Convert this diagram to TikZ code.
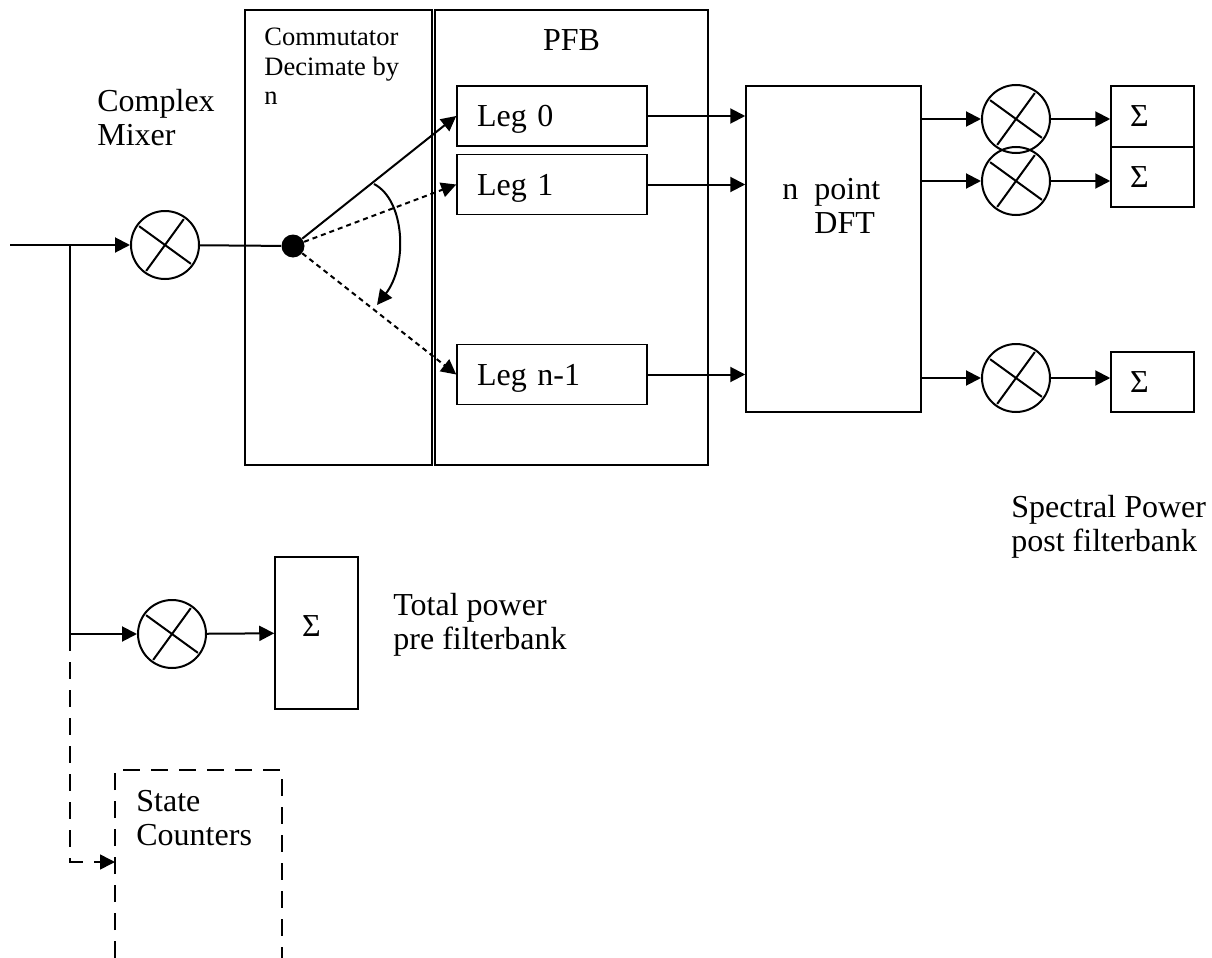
\documentclass[tikz,border=0pt]{standalone}
\usepackage{fontspec}
\setmainfont{Liberation Serif}
\usetikzlibrary{arrows.meta, positioning, calc}

\begin{document}
\begin{tikzpicture}[x=0.5pt, y=-0.5pt,
		every node/.style={font=\fontsize{16pt}{17pt}\selectfont},
		wire/.style={line width=1pt},
		arr/.style={wire, -{Triangle[length=7.5pt, width=7.5pt]}},
		dotwire/.style={arr, dash pattern=on 2.5pt off 2pt},
		dashwire/.style={line width=0.8pt, dash pattern=on 8.5pt off 5.5pt},
		blk/.style={draw, line width=0.75pt, inner sep=0pt},
		legbox/.style={blk, minimum height=30pt, text width=75pt, inner xsep=10pt, align=left, text depth=0pt},
		sigbox/.style={blk, minimum height=30pt, text width=22.5pt, inner xsep=9.5pt, align=left},
		mixer/.style={circle, draw, line width=1pt, minimum size=34pt, inner sep=0pt,
			path picture={
				\draw[line width=1pt] ([shift={(144:16pt)}]path picture bounding box.center) -- ([shift={(-36:16pt)}]path picture bounding box.center);
				\draw[line width=1pt] ([shift={(54:16pt)}]path picture bounding box.center) -- ([shift={(234:16pt)}]path picture bounding box.center);
			}},
		lbl/.style={anchor=north west, inner sep=0pt, align=left}]
	\useasboundingbox (0,0) rectangle (1212,958);
	% commutator and filterbank frames
	\node[blk, minimum width=93.5pt, minimum height=227.5pt] (comm) at (338.5,237.5) {};
	\node[blk, minimum width=136.5pt, minimum height=227.5pt] (pfb) at (571.5,237.5) {};
	\node[lbl, font=\fontsize{13.25pt}{14.75pt}\selectfont] (commlbl) at (264,28) {Commutator\\Decimate by\\n};
	\node[anchor=north, inner sep=0pt] (pfblbl) at ([yshift=-10pt]pfb.north) {PFB};
	% legs
	\node[legbox] (leg0) at (552,116) {Leg 0};
	\node[legbox] (leg1) at (552,184.5) {Leg 1};
	\node[legbox] (legn) at (552,374.5) {Leg n-1};
	% DFT
	\node[blk, minimum width=87.5pt, minimum height=163pt] (dft) at (833.5,249) {};
	\node[lbl] (dftlbl) at (782,178) {n\ \ point\\\hspace*{16pt}DFT};
	% mixers
	\node[mixer] (mixin) at (165,245) {};
	\node[mixer] (mixtot) at (172,634) {};
	\node[mixer] (mix0) at (1016,119) {};
	\node[mixer] (mix1) at (1016,181) {};
	\node[mixer] (mixn) at (1016,378) {};
	% accumulators
	\node[sigbox, minimum height=30.5pt] (sig0) at (1152.5,116.5) {Σ};
	\node[sigbox] (sig1) at (1152.5,177) {Σ};
	\node[sigbox] (sign) at (1152.5,382) {Σ};
	\node[blk, minimum height=76pt, text width=14.5pt, inner xsep=13.5pt, align=left, text depth=6.5pt] (sigtot) at (316.5,633) {Σ};
	% commutator switch
	\node[circle, fill, minimum size=11.5pt, inner sep=0pt] (dot) at (293,246) {};
	\coordinate (swA) at (374,184);
	\coordinate (swB) at (377,305);
	% input and tap points
	\coordinate (in) at (10,245);
	\coordinate (split) at (70,245);
	\coordinate (tap) at (70,634);
	\coordinate (bend) at (70,862);
	\coordinate (stc) at (115,862);
	% labels
	\node[lbl] (mixlbl) at (97,89) {Complex\\Mixer};
	\node[lbl] (speclbl) at (1011,495) {Spectral Power\\post filterbank};
	\node[lbl] (totlbl) at (393,593) {Total power\\pre filterbank};
	\node[lbl] (stclbl) at (136,790) {State\\Counters};
	% connectors
	\draw[arr] (in) -- (mixin);
	\draw[wire] (split) -- (tap);
	\draw[arr] (tap) -- (mixtot);
	\draw[arr] (mixtot) -- (sigtot);
	\draw[wire] (mixin) -- (dot);
	\draw[arr] (dot) -- (leg0.west);
	\draw[dotwire] (dot) -- (leg1.west);
	\draw[dotwire] (dot) -- (legn.west);
	\draw[arr] (swA) .. controls (405,200) and (408,265) .. (swB);
	\draw[arr] (leg0.east) -- (leg0.east -| dft.west);
	\draw[arr] (leg1.east) -- (leg1.east -| dft.west);
	\draw[arr] (legn.east) -- (legn.east -| dft.west);
	\draw[arr] (dft.east |- mix0) -- (mix0);
	\draw[arr] (dft.east |- mix1) -- (mix1);
	\draw[arr] (dft.east |- mixn) -- (mixn);
	\draw[arr] (mix0) -- (mix0 -| sig0.west);
	\draw[arr] (mix1) -- (mix1 -| sig1.west);
	\draw[arr] (mixn) -- (mixn -| sign.west);
	% state counters (open at the bottom)
	\draw[dashwire] (115,958) -- (115,770) -- (282,770) -- (282,958);
	\draw[dashwire, -{Triangle[length=7.5pt, width=7.5pt]}] (tap) -- (bend) -- (stc);
\end{tikzpicture}
\end{document}
